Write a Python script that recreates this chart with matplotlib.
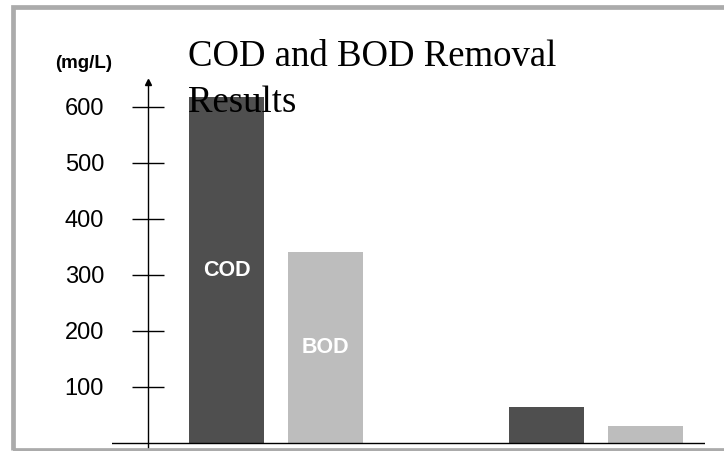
import matplotlib
matplotlib.use("Agg")
import matplotlib.pyplot as plt
from matplotlib.patches import Rectangle
import numpy as np

# ---- data ----
stages = ["Influent", "Effluent"]
cod_values = [618, 64]
bod_values = [341, 30]
series_names = ["COD", "BOD"]
ytick_values = [100, 200, 300, 400, 500, 600]
ytick_labels = ["100", "200", "300", "400", "500", "600"]
title_text = "COD and BOD Removal\nResults"
unit_text = "(mg/L)"

W, H = 724, 451
fig = plt.figure(figsize=(W / 100, H / 100), dpi=100)
fig.patch.set_facecolor("white")

# frame border of the scanned slide
fig.patches.append(Rectangle((13 / W, 1.5 / H), (W + 10 - 13) / W, (444 - 1.5) / H,
                             transform=fig.transFigure, fill=False,
                             edgecolor="#ababab", linewidth=3.4, zorder=0))

ax = fig.add_axes([112 / W, 0 / H, (705 - 112) / W, (451 - 82) / H])
ax.set_facecolor("none")

x = np.arange(len(stages))
off = 0.155
bw = 0.2346
ax.bar(x - off, cod_values, width=bw, color="#4f4f4f", zorder=2)
ax.bar(x + off, bod_values, width=bw, color="#bdbdbd", zorder=2)

ax.set_xlim(-0.513, 1.342)
ax.set_ylim(-14.3, 644.6)

for s in ["top", "right", "bottom"]:
    ax.spines[s].set_visible(False)
ax.spines["left"].set_position(("data", -0.4003))
ax.spines["left"].set_linewidth(1.0)
ax.spines["left"].set_zorder(3)
ax.set_xticks([])
ax.set_yticks(ytick_values)
ax.set_yticklabels(ytick_labels, fontfamily="Liberation Sans", fontsize=17)
ax.tick_params(axis="y", direction="inout", length=23, width=1.0, pad=20.2,
               colors="black")

# baseline
ax.axhline(0, color="black", linewidth=1.0, zorder=3)
# arrow on top of y axis
ax.plot([-0.4003], [644.6], marker="^", markersize=5, color="black",
        clip_on=False, zorder=4)

# series labels inside first group bars
ax.text(x[0] - off, 308, series_names[0], color="white", ha="center",
        va="center", fontsize=15.5, fontweight="bold", fontfamily="Liberation Sans",
        zorder=5)
ax.text(x[0] + off, 170, series_names[1], color="white", ha="center",
        va="center", fontsize=15.5, fontweight="bold", fontfamily="Liberation Sans",
        zorder=5)

# unit label
fig.text(84 / W, 1 - 64 / H, unit_text, ha="center", va="center",
         fontsize=13.5, fontweight="bold", fontfamily="Liberation Sans")

# title (baseline of last line)
fig.text(188 / W, 1 - 112 / H, title_text, ha="left", va="baseline",
         fontsize=26.5, fontfamily="Liberation Serif", linespacing=1.44,
         zorder=10)

fig.savefig("out.png", dpi=100)
